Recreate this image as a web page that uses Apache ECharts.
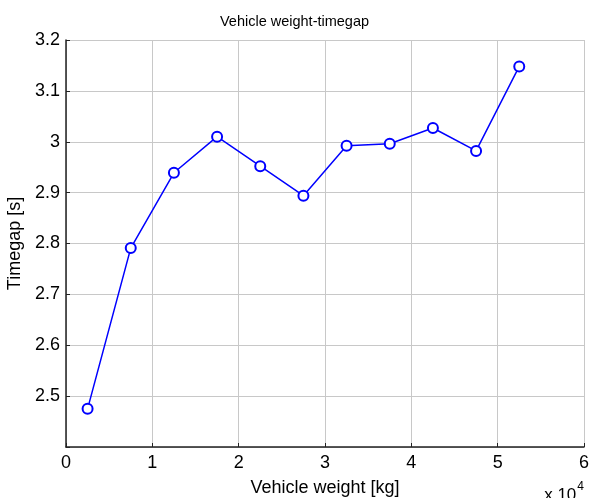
<!DOCTYPE html>
<html><head><meta charset="utf-8">
<script src="https://cdn.jsdelivr.net/npm/echarts@6/dist/echarts.min.js"></script>
<style>html,body{margin:0;padding:0;background:#fff}#c{width:589px;height:498px}</style>
</head><body><div id="c"></div>
<script>
const weights = [0.25, 0.75, 1.25, 1.75, 2.25, 2.75, 3.25, 3.75, 4.25, 4.75, 5.25];
const timegaps = [2.475, 2.791, 2.939, 3.010, 2.952, 2.894, 2.992, 2.996, 3.027, 2.982, 3.148];
const xTicks = [0, 1, 2, 3, 4, 5, 6];
const yTicks = [2.4, 2.5, 2.6, 2.7, 2.8, 2.9, 3.0, 3.1, 3.2];

const chart = echarts.init(document.getElementById('c'), null, {renderer: 'canvas'});
const font = 'Liberation Sans, Arial, sans-serif';
chart.setOption({
  animation: false,
  title: {text: 'Vehicle weight-timegap', left: 'center', top: 9,
    textStyle: {fontFamily: font, fontSize: 14.5, fontWeight: 'normal', color: '#000'}},
  grid: {left: 66, right: 5, top: 40, bottom: 51, containLabel: false, outerBoundsMode: 'none'},
  xAxis: {type: 'value', min: xTicks[0], max: xTicks[xTicks.length-1], interval: 1,
    name: 'Vehicle weight [kg]', nameLocation: 'middle', nameGap: 32,
    nameTextStyle: {fontFamily: font, fontSize: 18, color: '#000'},
    axisLine: {show: true, lineStyle: {color: '#222', width: 1.5}},
    axisTick: {show: true, inside: true, length: 4, lineStyle: {color: '#222'}},
    axisLabel: {fontFamily: font, fontSize: 18, color: '#000', margin: 7},
    splitLine: {show: true, lineStyle: {color: '#c8c8c8', width: 1}}},
  yAxis: {type: 'value', min: yTicks[0], max: yTicks[yTicks.length-1], interval: 0.1,
    name: 'Timegap [s]', nameLocation: 'middle', nameGap: 40,
    nameTextStyle: {fontFamily: font, fontSize: 18, color: '#000'},
    axisLine: {show: true, lineStyle: {color: '#222', width: 1.5}},
    axisTick: {show: true, inside: true, length: 4, lineStyle: {color: '#222'}},
    axisLabel: {fontFamily: font, fontSize: 18, color: '#000', margin: 6,
      formatter: v => (Math.abs(v - yTicks[0]) < 1e-6 ? '' : String(Math.round(v * 10) / 10))},
    splitLine: {show: true, lineStyle: {color: '#c8c8c8', width: 1}}},
  graphic: [{type: 'text', right: 5, bottom: -6,
    style: {text: '{a|x 10}{b|4}', rich: {
      a: {fontFamily: font, fontSize: 17, fill: '#000', verticalAlign: 'bottom'},
      b: {fontFamily: font, fontSize: 12, fill: '#000', verticalAlign: 'top', padding: [0,0,11,1]}}}}],
  series: [{type: 'line', data: weights.map((w, i) => [w, timegaps[i]]),
    symbol: 'emptyCircle', symbolSize: 10,
    lineStyle: {color: '#0000ff', width: 1.5},
    itemStyle: {color: '#0000ff', borderColor: '#0000ff', borderWidth: 1.5}}]
});
</script></body></html>
